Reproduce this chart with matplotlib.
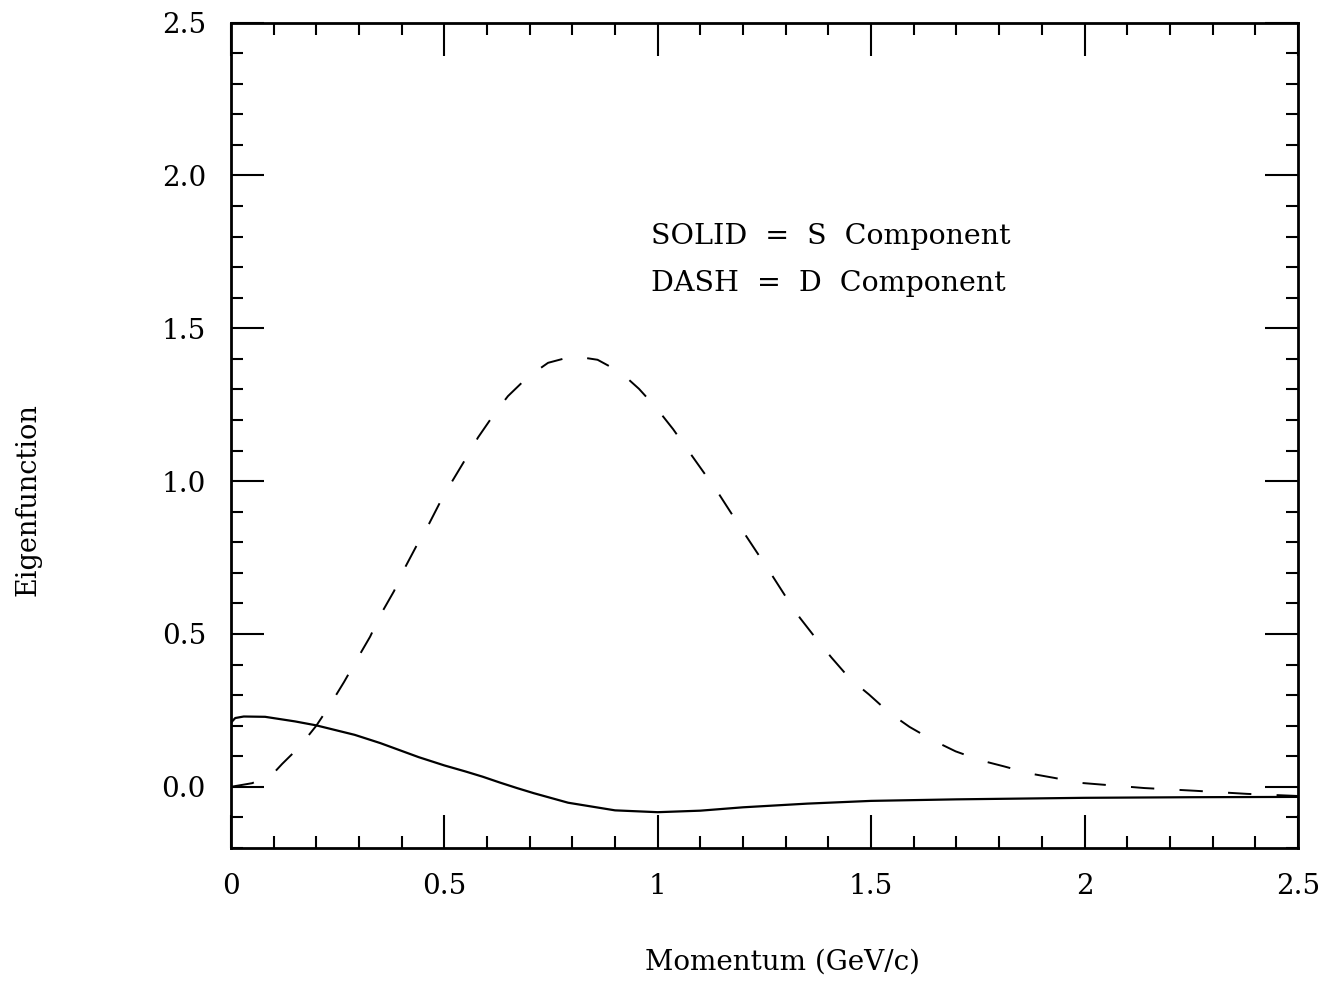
import numpy as np
import matplotlib
matplotlib.use("Agg")
import matplotlib.pyplot as plt
from matplotlib.ticker import MultipleLocator

# --- data ---
s_p = [0.0, 0.01, 0.03, 0.08, 0.15, 0.20, 0.29, 0.35, 0.44, 0.50, 0.55, 0.59, 0.63, 0.67,
       0.71, 0.79, 0.90, 1.00, 1.10, 1.20, 1.35, 1.50, 1.70, 2.00, 2.25, 2.50]
s_val = [0.21, 0.225, 0.23, 0.229, 0.214, 0.201, 0.17, 0.143, 0.097, 0.07, 0.05, 0.033, 0.014, -0.004,
         -0.021, -0.052, -0.077, -0.083, -0.078, -0.067, -0.055, -0.046, -0.041, -0.036, -0.034, -0.033]

d_p = [0.0, 0.05, 0.10, 0.12, 0.16, 0.20, 0.23, 0.265, 0.294, 0.326, 0.351, 0.382, 0.407,
       0.435, 0.464, 0.493, 0.519, 0.55, 0.579, 0.617, 0.649, 0.695, 0.743, 0.802, 0.859,
       0.913, 0.956, 0.997, 1.036, 1.073, 1.105, 1.141, 1.17, 1.204, 1.266, 1.299, 1.333,
       1.372, 1.407, 1.45, 1.495, 1.542, 1.59, 1.645, 1.698, 1.758, 1.811, 1.874, 1.93,
       1.99, 2.14, 2.26, 2.38, 2.50]
d_val = [0.0, 0.012, 0.045, 0.075, 0.13, 0.20, 0.263, 0.343, 0.414, 0.491, 0.564, 0.64, 0.715,
         0.789, 0.86, 0.939, 1.001, 1.073, 1.143, 1.22, 1.278, 1.34, 1.387, 1.409, 1.397,
         1.356, 1.302, 1.239, 1.17, 1.097, 1.034, 0.963, 0.9, 0.827, 0.696, 0.624, 0.553,
         0.483, 0.423, 0.354, 0.302, 0.243, 0.196, 0.152, 0.116, 0.086, 0.067, 0.043, 0.029,
         0.013, -0.004, -0.013, -0.023, -0.03]

x_ticks = [0, 0.5, 1, 1.5, 2, 2.5]
x_labels = ["0", "0.5", "1", "1.5", "2", "2.5"]
y_ticks = [0.0, 0.5, 1.0, 1.5, 2.0, 2.5]
y_labels = ["0.0", "0.5", "1.0", "1.5", "2.0", "2.5"]

plt.rcParams['font.family'] = ['DejaVu Serif']

fig = plt.figure(figsize=(13.19, 9.82), dpi=100)
ax = fig.add_axes([0.1751, 0.1365, 0.984 - 0.1751, 0.977 - 0.1365])

ax.plot(s_p, s_val, color='black', lw=1.6)
ax.plot(d_p, d_val, color='black', lw=1.4, dashes=(12, 13))

ax.set_xlim(0, 2.5)
ax.set_ylim(-0.2, 2.5)

ax.set_xticks(x_ticks)
ax.set_xticklabels(x_labels)
ax.set_yticks(y_ticks)
ax.set_yticklabels(y_labels)
ax.xaxis.set_minor_locator(MultipleLocator(0.1))
ax.yaxis.set_minor_locator(MultipleLocator(0.1))

ax.tick_params(which='both', direction='in', top=True, right=True, width=1.5)
ax.tick_params(which='major', length=24, labelsize=20, pad=18)
ax.tick_params(which='minor', length=8.5)
for sp in ax.spines.values():
    sp.set_linewidth(2)

fig.text(0.593, 0.0204, "Momentum (GeV/c)", fontsize=20, ha='center', va='center')
fig.text(0.021, 0.491, "Eigenfunction", fontsize=19.5, ha='center', va='center',
         rotation=90)

ax.text(0.985, 1.8, "SOLID  =  S  Component", fontsize=20.5, va='center')
ax.text(0.985, 1.645, "DASH  =  D  Component", fontsize=20.5, va='center')

fig.savefig("out.png", dpi=100)
